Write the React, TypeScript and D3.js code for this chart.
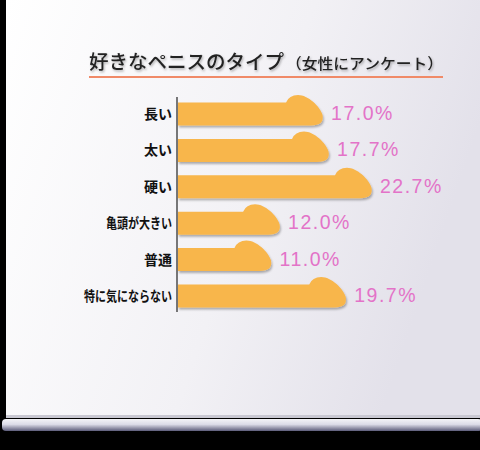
import React from 'react';
import * as d3 from 'd3';

const categories = ['長い', '太い', '硬い', '亀頭が大きい', '普通', '特に気にならない'];
const values = [17.0, 17.7, 22.7, 12.0, 11.0, 19.7];
const titleMain = '好きなペニスのタイプ';
const titleSub = '（女性にアンケート）';

const W = 480;
const H = 450;
const axisX = 177;

const x = d3.scaleLinear().domain([0, 22.7]).range([axisX, 372]);
const y = d3.scalePoint<string>().domain(categories).range([114, 296]);

// bar with a raised rounded tip at its right end
function barPath(x0: number, x1: number, cy: number, h: number) {
  const t = cy - h / 2;
  const b = cy + h / 2;
  const hump = t - 7.5;
  const p = d3.path();
  p.moveTo(x0, t);
  p.lineTo(x1 - 37, t);
  p.quadraticCurveTo(x1 - 34, hump, x1 - 25, hump);
  p.bezierCurveTo(x1 - 15, hump, x1 - 3, t + 4, x1 - 0.5, cy + 1);
  p.quadraticCurveTo(x1 + 1.5, b, x1 - 12, b);
  p.lineTo(x0, b);
  p.closePath();
  return p.toString();
}

export default function App() {
  const bh = 23;
  return (
    <svg width={W} height={H} style={{ position: 'absolute', left: 0, top: 0 }}>
      <defs>
        <linearGradient id="screen" x1="0" y1="0" x2="1" y2="0.3">
          <stop offset="0" stopColor="#ffffff" />
          <stop offset="0.6" stopColor="#f2f1f5" />
          <stop offset="1" stopColor="#e3e1ea" />
        </linearGradient>
        <linearGradient id="rail" x1="0" y1="0" x2="0" y2="1">
          <stop offset="0" stopColor="#f4f4f8" />
          <stop offset="0.45" stopColor="#dcdce8" />
          <stop offset="1" stopColor="#5c5c7a" />
        </linearGradient>
        <filter id="shadow" x="-10%" y="-30%" width="120%" height="170%">
          <feDropShadow dx="1" dy="2" stdDeviation="1.2" floodColor="#000" floodOpacity="0.3" />
        </filter>
        <filter id="tshadow" x="-5%" y="-30%" width="110%" height="170%">
          <feDropShadow dx="1" dy="1.5" stdDeviation="0.8" floodColor="#000" floodOpacity="0.3" />
        </filter>
      </defs>
      <rect x={0} y={0} width={W} height={H} fill="#000" />
      <rect x={6} y={0} width={W - 6} height={417} fill="url(#screen)" />
      <rect x={6} y={415} width={W - 6} height={3} fill="#c9c8d2" />
      <rect x={2} y={419} width={W} height={12} rx={4} fill="url(#rail)" />

      <g filter="url(#tshadow)" fontFamily="'Noto Sans CJK JP', sans-serif" fill="#222">
        <text x={89} y={69} fontSize={19.5} fontWeight={500}>{titleMain}</text>
        <text x={286} y={69} fontSize={15} fontWeight={500} textLength={157} lengthAdjust="spacingAndGlyphs">{titleSub}</text>
      </g>
      <rect x={89} y={76} width={354} height={2} fill="#f08a68" />

      <line x1={axisX} x2={axisX} y1={97} y2={312} stroke="#222" strokeWidth={1.2} />

      {categories.map((c, i) => {
        const cy = y(c) as number;
        const x1 = x(values[i]);
        const n = c.length;
        return (
          <g key={c}>
            <path d={barPath(axisX + 1, x1, cy, bh)} fill="#f8b64c" filter="url(#shadow)" />
            <text
              x={172}
              y={cy + 5}
              textAnchor="end"
              fontSize={14}
              fontWeight="bold"
              fill="#111"
              fontFamily="'Noto Sans CJK JP', sans-serif"
              textLength={n > 2 ? n * 11 : undefined}
              lengthAdjust="spacingAndGlyphs"
            >
              {c}
            </text>
            <text
              x={x1 + 8}
              y={cy + 6}
              fontSize={19.5}
              letterSpacing={1.5}
              fill="#e373c8"
              fontFamily="'Liberation Sans', Arial, sans-serif"
            >
              {values[i].toFixed(1)}%
            </text>
          </g>
        );
      })}
    </svg>
  );
}
